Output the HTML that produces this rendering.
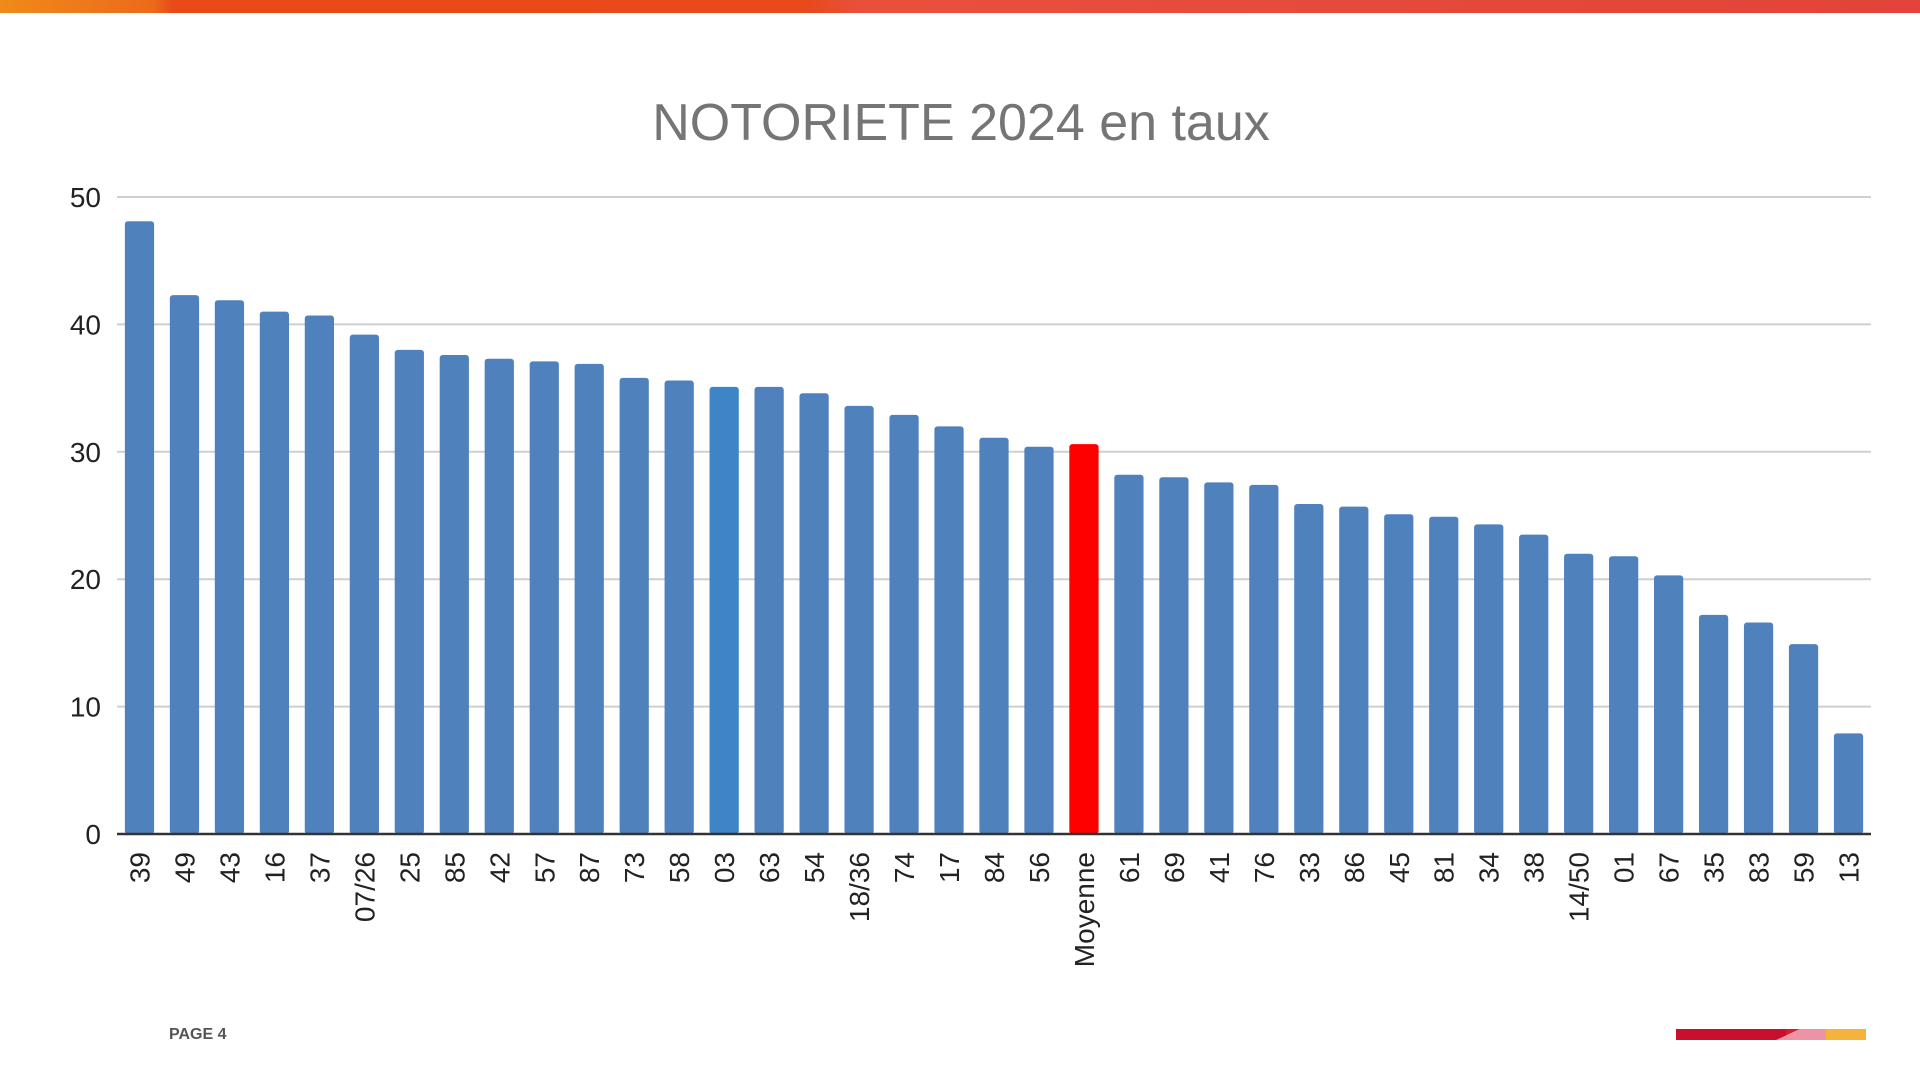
<!DOCTYPE html>
<html><head><meta charset="utf-8">
<style>
html,body{margin:0;padding:0;background:#fff;width:1920px;height:1080px;overflow:hidden;font-family:"Liberation Sans",Arial,sans-serif;}
</style></head>
<body>
<svg width="1920" height="1080" viewBox="0 0 1920 1080">
<defs>
<linearGradient id="tg" x1="0" x2="1" y1="0" y2="0">
<stop offset="0" stop-color="#f08a1a"/><stop offset="0.08" stop-color="#ec6a1a"/><stop offset="0.09" stop-color="#e84a18"/><stop offset="0.42" stop-color="#e84a1c"/><stop offset="0.45" stop-color="#e8503c"/><stop offset="1" stop-color="#e3433a"/>
</linearGradient>
</defs>
<rect x="0" y="0" width="1920" height="13" fill="url(#tg)"/>
<text x="961" y="140" text-anchor="middle" font-size="52" fill="#757575">NOTORIETE 2024 en taux</text>
<g id="grid"></g>
<g id="ylabels"></g>
<g id="bars"></g>
<g id="xlabels"></g>
<line x1="117" y1="834" x2="1871" y2="834" stroke="#333" stroke-width="2.5"/>
<text x="169" y="1039" font-size="16" font-weight="bold" fill="#555">PAGE 4</text>
<g>
<rect x="1676" y="1029" width="110" height="11" fill="#c8102e"/>
<polygon points="1786,1029 1800,1029 1776,1040 1786,1040" fill="#d81a2a"/>
<polygon points="1800,1029 1826,1029 1826,1040 1776,1040" fill="#ee93a6"/>
<rect x="1826" y="1029" width="40" height="11" fill="#f7b23b"/>
</g>
</svg>
<script>
const categories=["39","49","43","16","37","07/26","25","85","42","57","87","73","58","03","63","54","18/36","74","17","84","56","Moyenne","61","69","41","76","33","86","45","81","34","38","14/50","01","67","35","83","59","13"];
const values=[48.1,42.3,41.9,41.0,40.7,39.2,38.0,37.6,37.3,37.1,36.9,35.8,35.6,35.1,35.1,34.6,33.6,32.9,32.0,31.1,30.4,30.6,28.2,28.0,27.6,27.4,25.9,25.7,25.1,24.9,24.3,23.5,22.0,21.8,20.3,17.2,16.6,14.9,7.9];
const yTicks=[0,10,20,30,40,50];
const NS="http://www.w3.org/2000/svg";
const X0=117,X1=1871,Y0=834,YMAX=50,Y50=197;
function y(v){return Y0-(v/YMAX)*(Y0-Y50);}
const band=(X1-X0)/categories.length;
function xc(i){return X0+band*(i+0.5);}
const g=document.getElementById('grid'),yl=document.getElementById('ylabels'),b=document.getElementById('bars'),xl=document.getElementById('xlabels');
yTicks.forEach(t=>{
 if(t>0){const l=document.createElementNS(NS,'line');
 
 
 l.setAttribute('x1',X0);l.setAttribute('x2',X1);l.setAttribute('y1',y(t));l.setAttribute('y2',y(t));
 l.setAttribute('stroke','#cfcfcf');l.setAttribute('stroke-width','2');g.appendChild(l);}
 const tx=document.createElementNS(NS,'text');
 
 
 tx.setAttribute('x',101);tx.setAttribute('y',y(t)+10);tx.setAttribute('text-anchor','end');
 tx.setAttribute('font-size','28');tx.setAttribute('fill','#222');tx.textContent=t;yl.appendChild(tx);
});
const bw=band*0.65;
categories.forEach((c,i)=>{
 const v=values[i];
 const r=document.createElementNS(NS,'rect');
 
 
 r.setAttribute('x',xc(i)-bw/2);r.setAttribute('y',y(v));r.setAttribute('width',bw);r.setAttribute('height',Y0-y(v));
 r.setAttribute('rx','3');
 r.setAttribute('fill',c==='Moyenne'?'#ff0000':(c==='03'?'#3d85c6':'#4f81bd'));
 b.appendChild(r);
 const t=document.createElementNS(NS,'text');
 
 
 t.setAttribute('transform','translate('+(xc(i)+10)+',852) rotate(-90)');
 t.setAttribute('text-anchor','end');t.setAttribute('font-size','28');t.setAttribute('fill','#222');
 t.textContent=c;xl.appendChild(t);
});
</script>
</body></html>
